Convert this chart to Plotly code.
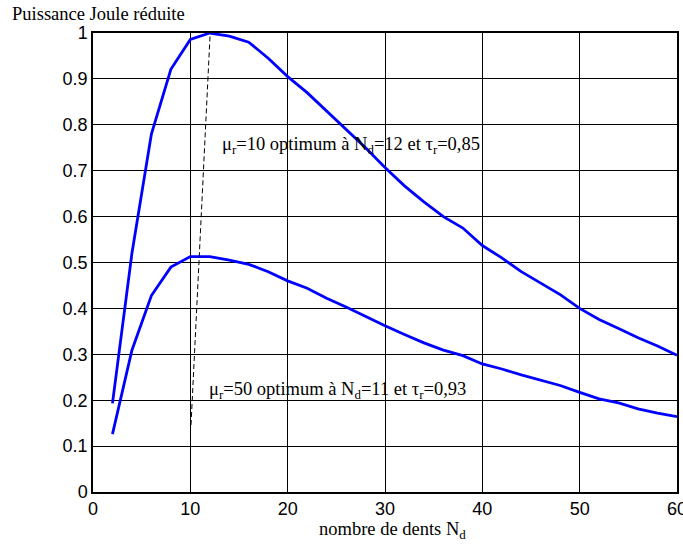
import plotly.graph_objects as go

nd = [2, 4, 6, 8, 10, 12, 14, 16, 18, 20, 22, 24, 26, 28, 30, 32, 34, 36, 38, 40,
      42, 44, 46, 48, 50, 52, 54, 56, 58, 60]
p_mu10 = [0.193, 0.52, 0.78, 0.921, 0.986, 1.0, 0.993, 0.98, 0.945, 0.905, 0.87, 0.83,
          0.79, 0.75, 0.707, 0.667, 0.632, 0.60, 0.575, 0.537, 0.51, 0.48, 0.455, 0.43,
          0.40, 0.376, 0.356, 0.336, 0.318, 0.298]
p_mu50 = [0.126, 0.309, 0.428, 0.49, 0.513, 0.513, 0.505, 0.496, 0.48, 0.46, 0.444,
          0.422, 0.403, 0.382, 0.362, 0.343, 0.325, 0.309, 0.297, 0.279, 0.268, 0.255,
          0.243, 0.232, 0.217, 0.203, 0.194, 0.181, 0.172, 0.164]
opt_x = [10.07, 12.1]
opt_y = [0.146, 1.027]

x_ticks = [0, 10, 20, 30, 40, 50, 60]
y_ticks = [0, 0.1, 0.2, 0.3, 0.4, 0.5, 0.6, 0.7, 0.8, 0.9, 1]

W, H = 683, 544
ML, MR, MT, MB = 93, 6, 33, 52
plot_w = W - ML - MR
plot_h = H - MT - MB

def px_to_paper_x(px):
    return (px - ML) / plot_w

def px_to_paper_y(py):
    return (H - MB - py) / plot_h

serif = "Liberation Serif"
sans = "Liberation Sans"

fig = go.Figure()
fig.add_trace(go.Scatter(x=nd, y=p_mu10, mode="lines",
                         line=dict(color="#0000ff", width=2.8), cliponaxis=False))
fig.add_trace(go.Scatter(x=nd, y=p_mu50, mode="lines",
                         line=dict(color="#0000ff", width=2.8), cliponaxis=False))
fig.add_trace(go.Scatter(x=opt_x, y=opt_y, mode="lines",
                         line=dict(color="black", width=1, dash="5px,3px"), cliponaxis=False))

fig.add_annotation(x=13.05, y=0.756, xref="x", yref="y", xanchor="left", yanchor="middle",
                   showarrow=False,
                   text="μ<sub>r</sub>=10 optimum à N<sub>d</sub>=12 et τ<sub>r</sub>=0,85",
                   font=dict(family=serif, size=18.5, color="black"))
fig.add_annotation(x=11.68, y=0.222, xref="x", yref="y", xanchor="left", yanchor="middle",
                   showarrow=False,
                   text="μ<sub>r</sub>=50 optimum à N<sub>d</sub>=11 et τ<sub>r</sub>=0,93",
                   font=dict(family=serif, size=18.5, color="black"))
fig.add_annotation(x=px_to_paper_x(10), y=px_to_paper_y(14), xref="paper", yref="paper",
                   showarrow=False, text="Puissance Joule réduite",
                   xanchor="left", yanchor="middle",
                   font=dict(family=serif, size=18.5, color="black"))
fig.add_annotation(x=px_to_paper_x(392), y=px_to_paper_y(530), xref="paper", yref="paper",
                   showarrow=False, text="nombre de dents N<sub>d</sub>",
                   xanchor="center", yanchor="middle",
                   font=dict(family=serif, size=18.5, color="black"))

fig.update_layout(
    template="none",
    width=W, height=H,
    margin=dict(l=ML, r=MR, t=MT, b=MB, autoexpand=False),
    paper_bgcolor="white", plot_bgcolor="white",
    showlegend=False,
    font=dict(family=sans, size=18, color="black"),
    xaxis=dict(range=[0, 60], tickvals=x_ticks, ticktext=[str(v) for v in x_ticks],
               showgrid=True, gridcolor="black", gridwidth=1,
               showline=True, linecolor="black", linewidth=1.5, mirror=True,
               zeroline=False, ticks="", automargin=False, ticklabeloverflow="allow",
               tickfont=dict(family=sans, size=18, color="black")),
    yaxis=dict(range=[0, 1], tickvals=y_ticks, ticktext=[("%g" % v) for v in y_ticks],
               showgrid=True, gridcolor="black", gridwidth=1,
               showline=True, linecolor="black", linewidth=1.5, mirror=True,
               zeroline=False, ticks="", automargin=False, ticklabeloverflow="allow",
               tickfont=dict(family=sans, size=18, color="black")),
)

fig.write_html("out.html", config={"displayModeBar": False},
               post_script="document.body.style.margin='0px';document.body.style.overflow='hidden';")
